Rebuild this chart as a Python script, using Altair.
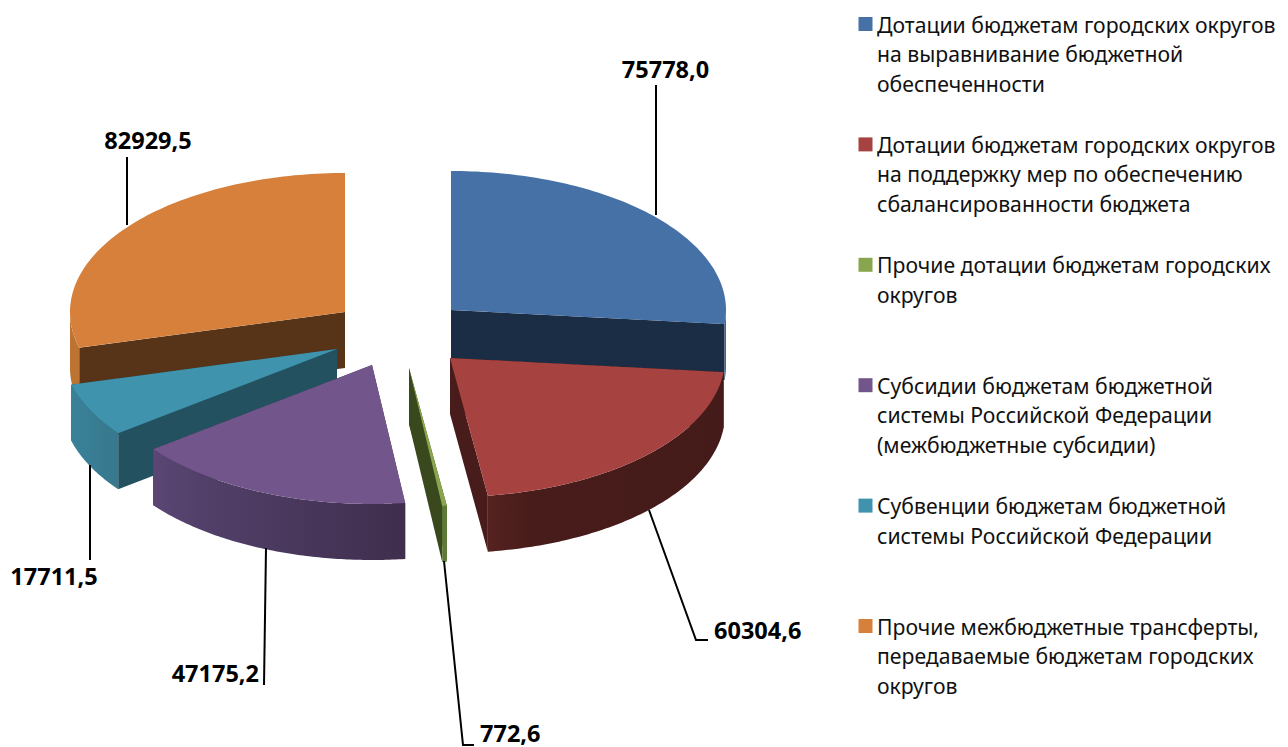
import altair as alt
import numpy as np
import pandas as pd

categories = [
    "Дотации бюджетам городских округов\nна выравнивание бюджетной\nобеспеченности",
    "Дотации бюджетам городских округов\nна поддержку мер по обеспечению\nсбалансированности бюджета",
    "Прочие дотации бюджетам городских\nокругов",
    "Субсидии бюджетам бюджетной\nсистемы Российской Федерации\n(межбюджетные субсидии)",
    "Субвенции бюджетам бюджетной\nсистемы Российской Федерации",
    "Прочие межбюджетные трансферты,\nпередаваемые бюджетам городских\nокругов",
]
values = [75778.0, 60304.6, 772.6, 47175.2, 17711.5, 82929.5]
top_colors = ["#4671A6", "#A64340", "#89A54E", "#72568B", "#3F93AC", "#D6803B"]
radial_colors = ["#1B2D44", "#471C1A", "#3A481E", "#3F2E4D", "#235160", "#573418"]
outer_left = ["#3E6492", "#552220", "#5E7A37", "#5B4674", "#3A8097", "#BD7433"]
outer_mid = ["#3E6492", "#471C1A", "#5E7A37", "#52406A", "#398097", "#BD7433"]
outer_right = ["#3E6492", "#451B19", "#5E7A37", "#3F2E4D", "#37788C", "#BD7433"]

# layout of the exploded pie, in picture pixels
apex = [(451, 310), (450, 358), (409, 368), (372, 365), (337, 349), (345, 312)]
RX, RY, DEPTH = 275.0, 139.0, 56.0

leaders = [
    [(656, 85), (656, 215)],
    [(649, 510), (696, 640), (708, 640)],
    [(444, 561), (463, 745), (474, 745)],
    [(266, 548), (264, 685)],
    [(90, 465), (90, 560)],
    [(127, 157), (127, 225)],
]
label_pos = [(665.5, 71, "center"), (714, 632, "left"), (480, 735, "left"),
             (259, 675, "right"), (54, 578, "center"), (148, 142, "center")]
LEGEND_X, LEGEND_TEXT_X, LEGEND_Y0, LEGEND_STEP = 865.5, 877, 24.0, 120.4

X_DOMAIN = [8, 1280]
Y_DOMAIN = [747, 8]
X = alt.X("x:Q", scale=alt.Scale(domain=X_DOMAIN), axis=None)
Y = alt.Y("y:Q", scale=alt.Scale(domain=Y_DOMAIN), axis=None)
Y2 = alt.Y2("y2:Q")


def band(polygon):
    """Turn a convex polygon into x / top / bottom rows for an area mark."""
    p = np.array(polygon, dtype=float)
    xs = np.unique(np.round(p[:, 0], 3))
    q = np.roll(p, -1, axis=0)
    rows = []
    for x in xs:
        hits = []
        for (x1, y1), (x2, y2) in zip(p, q):
            if min(x1, x2) - 1e-3 <= x <= max(x1, x2) + 1e-3:
                if abs(x2 - x1) < 1e-3:
                    hits += [y1, y2]
                else:
                    hits.append(y1 + (y2 - y1) * (x - x1) / (x2 - x1))
        rows.append({"x": x, "y": min(hits), "y2": max(hits)})
    return pd.DataFrame(rows)


def rim(cx, cy, a0, a1, n=90):
    t = np.radians(np.linspace(a0, a1, n))
    return list(zip(cx + RX * np.sin(t), cy - RY * np.cos(t)))


def area(polygon, color):
    return alt.Chart(band(polygon)).mark_area(color=color, interpolate="linear").encode(X, Y, Y2)


total = sum(values)
angles = np.cumsum([0] + values) / total * 360

slices = {}
for i in range(len(values)):
    cx, cy = apex[i]
    a0, a1 = angles[i], angles[i + 1]
    parts = []
    # cut faces below each radial edge
    for a in (a1, a0):
        e = rim(cx, cy, a, a, 1)[0]
        parts.append(area([(cx, cy), e, (e[0], e[1] + DEPTH), (cx, cy + DEPTH)], radial_colors[i]))
    # outer wall: only where the rim faces the viewer
    lo, hi = max(a0, 90), min(a1, 270)
    if hi > lo:
        ra = np.array(rim(cx, cy, lo, hi))
        xs = np.unique(np.round(ra[:, 0], 3))
        order = np.argsort(ra[:, 0])
        yt = np.interp(xs, ra[order, 0], ra[order, 1])
        grad = alt.LinearGradient(
            gradient="linear", x1=0, x2=1, y1=0, y2=0,
            stops=[alt.GradientStop(color=outer_left[i], offset=0),
                   alt.GradientStop(color=outer_mid[i], offset=0.18),
                   alt.GradientStop(color=outer_right[i], offset=1)])
        df = pd.DataFrame({"x": xs, "y": yt, "y2": yt + DEPTH})
        parts.append(alt.Chart(df).mark_area(color=grad).encode(X, Y, Y2))
    parts.append(area([(cx, cy)] + rim(cx, cy, a0, a1), top_colors[i]))
    slices[i] = parts

# painter's order: back slices first
layers = []
for i in (5, 4, 0, 1, 2, 3):
    layers += slices[i]

rows = []
for k, path in enumerate(leaders):
    for j, (x, y) in enumerate(path):
        rows.append({"x": x, "y": y, "k": k, "j": j})
layers.append(alt.Chart(pd.DataFrame(rows)).mark_line(color="black", strokeWidth=2).encode(
    X, Y, detail="k:N", order="j:Q"))

labels = pd.DataFrame({
    "t": [f"{v:.1f}".replace(".", ",") for v in values],
    "x": [p[0] for p in label_pos], "y": [p[1] for p in label_pos], "a": [p[2] for p in label_pos]})
for al in ("left", "center", "right"):
    layers.append(alt.Chart(labels[labels.a == al]).mark_text(
        align=al, baseline="middle", font="Noto Sans", fontWeight="bold", fontSize=23.5, color="black"
    ).encode(X, Y, text="t:N"))

legend = pd.DataFrame({
    "name": categories,
    "x": LEGEND_X, "tx": LEGEND_TEXT_X,
    "y": [LEGEND_Y0 + LEGEND_STEP * i for i in range(6)],
})
legend["ty"] = legend["y"] - 8.5
layers.append(alt.Chart(legend).mark_point(shape="square", filled=True, size=196, opacity=1).encode(
    X, Y, color=alt.Color("name:N", scale=alt.Scale(domain=categories, range=top_colors), legend=None)))
layers.append(alt.Chart(legend).mark_text(
    align="left", baseline="top", lineBreak="\n", lineHeight=29.5,
    font="Noto Sans", fontSize=21.2, color="#111111"
).encode(alt.X("tx:Q", scale=alt.Scale(domain=X_DOMAIN), axis=None),
         alt.Y("ty:Q", scale=alt.Scale(domain=Y_DOMAIN), axis=None), text="name:N"))

chart = alt.layer(*layers).properties(width=1272, height=739, padding=0, background="white").configure_view(stroke=None)
chart.save("out.html", embed_options={"renderer": "svg", "actions": False})
